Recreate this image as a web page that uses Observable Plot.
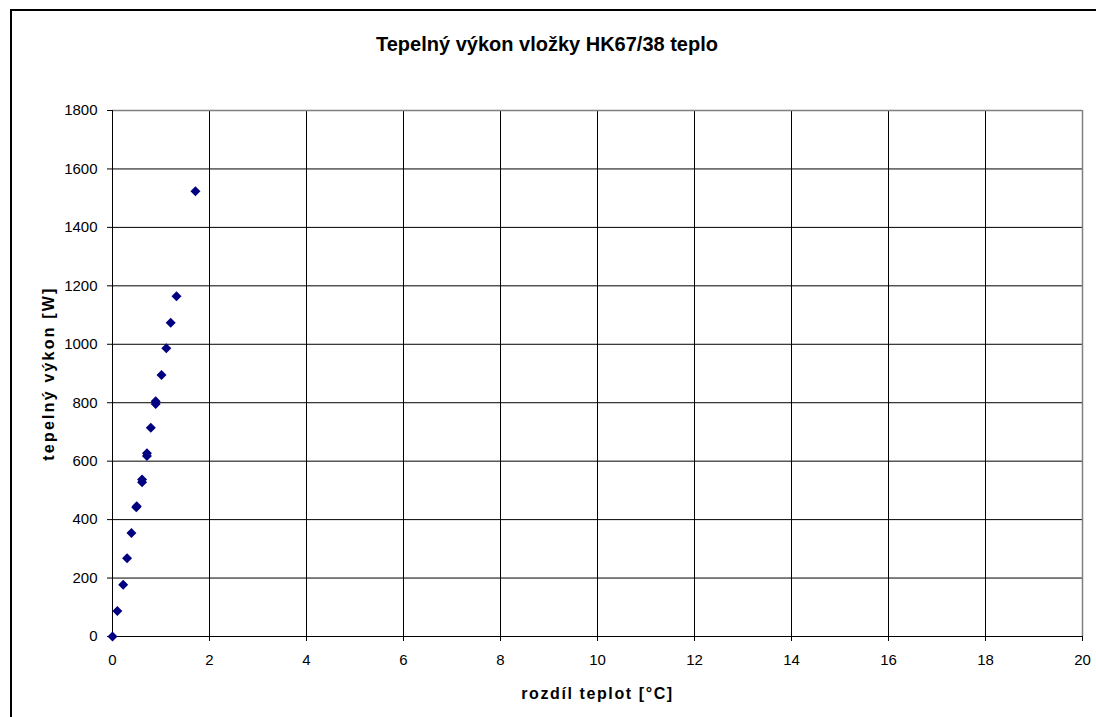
<!DOCTYPE html>
<html><head><meta charset="utf-8">
<script src="https://cdn.jsdelivr.net/npm/d3@7"></script>
<script src="https://cdn.jsdelivr.net/npm/@observablehq/plot@0.6"></script>
<style>
html,body{margin:0;padding:0;background:#fff;width:1096px;height:717px;overflow:hidden;font-family:Arial,"Liberation Sans",sans-serif;}
#wrap{position:relative;width:1096px;height:717px;overflow:hidden;}
#border{position:absolute;left:10px;top:9px;width:1200px;height:800px;border:2px solid #000;box-sizing:border-box;}
#title{position:absolute;left:0;top:33px;width:1094px;text-align:center;font-weight:bold;font-size:20px;line-height:23px;color:#000;}
#chart{position:absolute;left:0;top:0;}
</style></head>
<body><div id="wrap"><div id="border"></div><div id="title">Tepelný výkon vložky HK67/38 teplo</div><div id="chart"></div></div>
<script>
const deltaT = [0, 0.10, 0.22, 0.30, 0.39, 0.49, 0.50, 0.61, 0.61, 0.71, 0.71, 0.79, 0.89, 0.89, 1.01, 1.11, 1.20, 1.32, 1.71];
const power  = [0, 87, 177, 268, 354, 442, 446, 528, 537, 618, 627, 714, 796, 805, 895, 986, 1074, 1164, 1524];
const xTicks = [0, 2, 4, 6, 8, 10, 12, 14, 16, 18, 20];
const yTicks = [0, 200, 400, 600, 800, 1000, 1200, 1400, 1600, 1800];
const data = deltaT.map((d, i) => ({x: d, y: power[i]}));

const chart = Plot.plot({
  width: 1096, height: 717,
  marginLeft: 112, marginRight: 14, marginTop: 110, marginBottom: 81,
  style: {fontFamily: 'Arial, "Liberation Sans", sans-serif', fontSize: "15px", color: "#000", background: "transparent", overflow: "visible"},
  x: {domain: [0, 20], ticks: xTicks},
  y: {domain: [0, 1800], ticks: yTicks},
  marks: [
    Plot.ruleX(xTicks.filter(d => d > 0 && d < 20), {stroke: "#000", strokeWidth: 1}),
    Plot.ruleY(yTicks.filter(d => d > 0 && d < 1800), {stroke: "#000", strokeWidth: 1}),
    Plot.ruleY([1800], {stroke: "#808080", strokeWidth: 1.5}),
    Plot.ruleX([20], {stroke: "#808080", strokeWidth: 1.5}),
    Plot.ruleX([0], {stroke: "#000", strokeWidth: 1}),
    Plot.ruleY([0], {stroke: "#000", strokeWidth: 1}),
    Plot.axisX({ticks: xTicks, tickSize: 5, tickPadding: 13, tickFormat: d => String(d), label: "rozdíl teplot [°C]", labelAnchor: "center", labelArrow: "none", labelOffset: 62, fontSize: 15}),
    Plot.axisY({ticks: yTicks, tickSize: 5, tickPadding: 10, tickFormat: d => String(d), label: "tepelný výkon [W]", labelAnchor: "center", labelArrow: "none", labelOffset: 70, fontSize: 15}),
    Plot.dot(data, {x: "x", y: "y", symbol: "diamond2", r: 4.5, fill: "#000080", stroke: "none"})
  ]
});
d3.select(chart).selectAll('[aria-label="x-axis label"] text')
  .style("font-weight", "bold").style("font-size", "16px").style("letter-spacing", "1.6px");
d3.select(chart).selectAll('[aria-label="y-axis label"] text')
  .style("font-weight", "bold").style("font-size", "16px").style("letter-spacing", "2.2px");
document.getElementById("chart").appendChild(chart);
</script></body></html>
